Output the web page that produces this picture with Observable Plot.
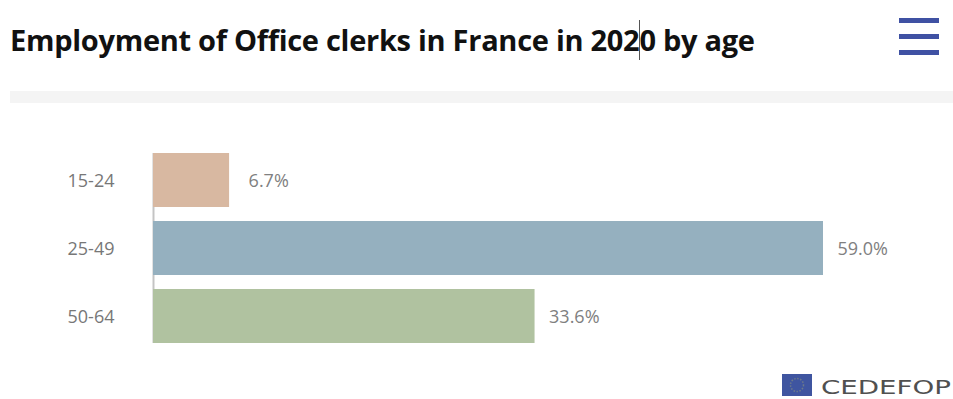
<!DOCTYPE html>
<html>
<head>
<meta charset="utf-8">
<script src="https://cdn.jsdelivr.net/npm/d3@7"></script>
<script src="https://cdn.jsdelivr.net/npm/@observablehq/plot@0.6"></script>
<style>
  html, body { margin: 0; padding: 0; background: #fff; }
  #page { position: relative; width: 953px; height: 399px; overflow: hidden; font-family: "Open Sans", sans-serif; }
  #header { position: relative; height: 91px; }
  #title { position: absolute; left: 10px; top: 20px; margin: 0; font-size: 29px; line-height: 40px; font-weight: 700; color: #111; white-space: nowrap; letter-spacing: -0.28px; }
  #cursor { position: absolute; left: 639px; top: 20px; width: 1px; height: 40px; background: #555; }
  #menu { position: absolute; left: 899px; top: 18px; width: 40px; }
  #menu i { display: block; height: 5px; margin-bottom: 11px; background: #3f51a3; }
  #band { margin-left: 10px; height: 12px; background: #f4f4f4; }
  #chart svg { display: block; }
  #logo { position: absolute; left: 782px; top: 373px; }
</style>
</head>
<body>
<div id="page">
  <div id="header">
    <h1 id="title">Employment of Office clerks in France in 2020 by age</h1>
    <div id="cursor"></div>
    <div id="menu"><i></i><i></i><i></i></div>
  </div>
  <div id="band"></div>
  <div id="chart"></div>
  <svg id="logo" width="171" height="26" viewBox="0 0 171 26">
    <rect x="0" y="1" width="30" height="22" fill="#3f55a0"/>
    <circle cx="15" cy="12" r="6.5" fill="none" stroke="#6d7a8a" stroke-width="1.5" stroke-dasharray="1.5 1.5"/>
    <text x="39" y="21" font-family="DejaVu Sans" font-size="19" fill="#505050" textLength="130" lengthAdjust="spacingAndGlyphs">CEDEFOP</text>
  </svg>
</div>
<script>
// Share of office clerks employed in France in 2020, per age group
const ageGroups = ["15-24", "25-49", "50-64"];
const shares = [6.7, 59.0, 33.6];
const barColors = ["#d8b8a1", "#95b0bf", "#b0c2a0"];

const rows = ageGroups.map((age, i) => ({age, share: shares[i], color: barColors[i]}));

// The shortest bar keeps its label a little further from the bar end
const valueLabel = (data, dx) => Plot.text(data, {
  x: "share",
  y: "age",
  text: d => d.share.toFixed(1) + "%",
  textAnchor: "start",
  dx,
  dy: 1,
  fill: "#808080",
  fontSize: 18
});

const chart = Plot.plot({
  width: 953,
  height: 296,
  marginTop: 50,
  marginBottom: 56,
  marginLeft: 153,
  marginRight: 130,
  style: {background: "transparent", fontFamily: "'Open Sans', sans-serif", fontSize: "18px"},
  x: {domain: [0, 59], axis: null},
  y: {domain: ageGroups, paddingInner: 14 / 68, paddingOuter: 0, label: null},
  marks: [
    Plot.axisY({tickSize: 0, tickPadding: 39, color: "#777", fontSize: 18, dy: 1, label: null}),
    Plot.ruleX([0], {stroke: "#c4c4c4", strokeWidth: 2}),
    Plot.barX(rows, {x: "share", y: "age", fill: "color"}),
    valueLabel(rows.slice(0, 1), 19),
    valueLabel(rows.slice(1), 14)
  ]
});
document.getElementById("chart").append(chart);
</script>
</body>
</html>
